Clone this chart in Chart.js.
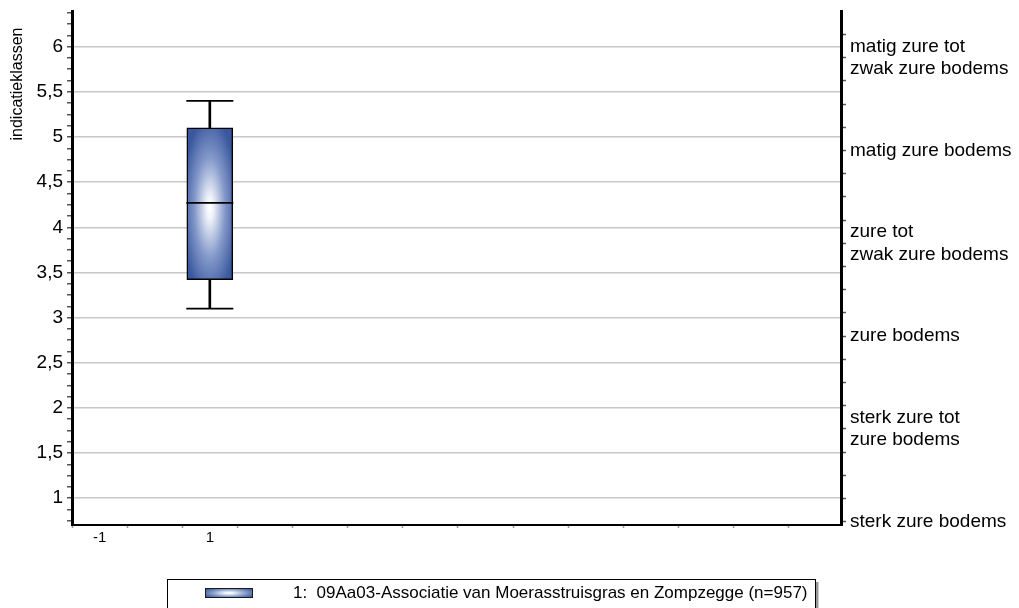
<!DOCTYPE html>
<html>
<head>
<meta charset="utf-8">
<script src="https://cdn.jsdelivr.net/npm/chart.js@4"></script>
<style>
  html, body { margin: 0; padding: 0; background: #ffffff; }
  #wrap { width: 1019px; height: 608px; position: relative; }
</style>
</head>
<body>
<div id="wrap"><canvas id="c" width="1019" height="608"></canvas></div>
<script>
// ---- data ----
const positions   = [1];
const whiskerLow  = [3.1];
const quartile1   = [3.42];
const medians     = [4.27];
const quartile3   = [5.1];
const whiskerHigh = [5.4];
const seriesLabel = '1:  09Aa03-Associatie van Moerasstruisgras en Zompzegge (n=957)';
const axisTitle   = 'indicatieklassen';

// bottom axis: labelled positions
const xTickValues = [-1, 1];
const xTickLabels = ['-1', '1'];

// right axis: one label per soil class 1..6
const classValues = [1, 2, 3, 4, 5, 6];
const classLabels = [
  ['sterk zure bodems'],
  ['sterk zure tot', 'zure bodems'],
  ['zure bodems'],
  ['zure tot', 'zwak zure bodems'],
  ['matig zure bodems'],
  ['matig zure tot', 'zwak zure bodems']
];

// ---- styling ----
const FONT = "'Liberation Sans', Arial, Helvetica, sans-serif";
const BOX_W = 46;
const BOX_EDGE = 'rgb(58, 88, 158)';
Chart.defaults.font.family = FONT;
Chart.defaults.color = '#000';

function steps(from, to, step) {
  const out = [];
  for (let v = from; v <= to + 1e-9; v += step) out.push(Math.round(v * 1000) / 1000);
  return out;
}
const isHalf = v => v !== undefined && Math.abs(v * 2 - Math.round(v * 2)) < 1e-6;
const commaNum = v => String(v).replace('.', ',');

// fixed axis box sizes, no extra room reserved for overhanging labels
function fixBox(size, key) {
  return s => {
    s[key] = size;
    s.paddingTop = 0; s.paddingBottom = 0; s.paddingLeft = 0; s.paddingRight = 0;
  };
}

// elliptical white-to-blue shading for the box
function boxFill(context) {
  const chart = context.chart;
  const xs = chart.scales.x, ys = chart.scales.y;
  const i = context.dataIndex;
  if (!xs || !ys || i === undefined || !chart.chartArea) return BOX_EDGE;
  const cx = xs.getPixelForValue(positions[i]);
  const top = ys.getPixelForValue(quartile3[i]);
  const bot = ys.getPixelForValue(quartile1[i]);
  const h = bot - top, cy = (top + bot) / 2;
  const off = document.createElement('canvas');
  off.width = chart.width; off.height = chart.height;
  const g = off.getContext('2d');
  g.fillStyle = BOX_EDGE;
  g.fillRect(0, 0, off.width, off.height);
  g.save();
  g.translate(cx, cy + 4);
  g.scale(1, h / BOX_W);
  const grad = g.createRadialGradient(0, 0, 0, 0, 0, BOX_W * 0.6);
  grad.addColorStop(0, '#ffffff');
  grad.addColorStop(0.12, '#f0f3f9');
  grad.addColorStop(0.55, 'rgb(132, 153, 202)');
  grad.addColorStop(1, BOX_EDGE);
  g.fillStyle = grad;
  g.fillRect(-BOX_W, -BOX_W, BOX_W * 2, BOX_W * 2);
  g.restore();
  return chart.ctx.createPattern(off, 'no-repeat');
}

// axis title and framed legend
const decorations = {
  id: 'decorations',
  afterDraw(chart) {
    const ctx = chart.ctx;
    const area = chart.chartArea;
    ctx.save();
    // rotated y-axis title
    ctx.translate(18, area.top + 73);
    ctx.rotate(-Math.PI / 2);
    ctx.font = '16px ' + FONT;
    ctx.fillStyle = '#000';
    ctx.textAlign = 'center';
    ctx.textBaseline = 'middle';
    ctx.fillText(axisTitle, 0, 0);
    ctx.restore();

    // legend frame with shadow
    ctx.save();
    ctx.fillStyle = '#9a9a9a';
    ctx.fillRect(816, 582, 2.5, 40);
    ctx.fillStyle = '#ffffff';
    ctx.fillRect(167.5, 579.5, 648, 40);
    ctx.strokeStyle = '#000';
    ctx.lineWidth = 1;
    ctx.strokeRect(167.5, 579.5, 648, 40);

    // legend swatch
    const sx = 205, sy = 588, sw = 48, sh = 10;
    ctx.save();
    ctx.beginPath();
    ctx.rect(sx, sy, sw, sh);
    ctx.clip();
    ctx.fillStyle = BOX_EDGE;
    ctx.fillRect(sx, sy, sw, sh);
    ctx.translate(sx + sw / 2, sy + sh / 2);
    ctx.scale(1, sh / sw);
    const grad = ctx.createRadialGradient(0, 0, 0, 0, 0, sw * 0.6);
    grad.addColorStop(0, '#ffffff');
    grad.addColorStop(0.15, '#eef2f9');
    grad.addColorStop(0.6, 'rgb(130, 152, 200)');
    grad.addColorStop(1, BOX_EDGE);
    ctx.fillStyle = grad;
    ctx.fillRect(-sw, -sw, sw * 2, sw * 2);
    ctx.restore();
    ctx.strokeStyle = '#1a1a1a';
    ctx.lineWidth = 1;
    ctx.strokeRect(sx + 0.5, sy + 0.5, sw - 1, sh - 1);

    // legend text
    ctx.font = '17px ' + FONT;
    ctx.fillStyle = '#000';
    ctx.textAlign = 'left';
    ctx.textBaseline = 'middle';
    ctx.fillText(chart.data.datasets[1].label, 293, 593);
    ctx.restore();
  }
};

new Chart(document.getElementById('c'), {
  type: 'bar',
  data: {
    datasets: [
      {
        label: 'whisker',
        type: 'bar',
        data: positions.map((p, i) => ({ x: p, y: [whiskerLow[i], whiskerHigh[i]] })),
        backgroundColor: '#000',
        borderWidth: 0,
        barThickness: 2,
        grouped: false,
        order: 2
      },
      {
        label: seriesLabel,
        type: 'bar',
        data: positions.map((p, i) => ({ x: p, y: [quartile1[i], quartile3[i]] })),
        backgroundColor: boxFill,
        borderColor: '#000',
        borderWidth: 1.5,
        borderSkipped: false,
        barThickness: BOX_W,
        grouped: false,
        order: 1
      },
      {
        label: 'marks',
        type: 'scatter',
        data: positions.flatMap((p, i) => [
          { x: p, y: whiskerLow[i] },
          { x: p, y: medians[i] },
          { x: p, y: whiskerHigh[i] }
        ]),
        pointStyle: 'line',
        pointRadius: 23.5,
        pointBorderWidth: 1.8,
        pointBorderColor: '#000',
        showLine: false,
        order: 0
      }
    ]
  },
  options: {
    responsive: false,
    animation: false,
    events: [],
    layout: { autoPadding: false, padding: { top: 11, left: 0, right: 0, bottom: 0 } },
    plugins: { legend: { display: false }, tooltip: { enabled: false } },
    scales: {
      x: {
        type: 'linear',
        min: -1.5,
        max: 12.45,
        offset: false,
        afterBuildTicks: s => { s.ticks = steps(-1, 12, 1).map(v => ({ value: v })); },
        afterFit: fixBox(83, 'height'),
        grid: { drawOnChartArea: false, tickLength: 3, tickColor: '#9a9a9a', tickWidth: 1.5 },
        border: { color: '#000', width: 2 },
        ticks: {
          autoSkip: false,
          maxRotation: 0,
          padding: 1,
          font: { size: 15 },
          color: '#000',
          callback: v => {
            const k = xTickValues.indexOf(v);
            return k >= 0 ? xTickLabels[k] : '';
          }
        }
      },
      y: {
        type: 'linear',
        position: 'left',
        min: 0.703,
        max: 6.395,
        afterBuildTicks: s => { s.ticks = steps(0.75, 6.375, 0.125).map(v => ({ value: v })); },
        afterFit: fixBox(72, 'width'),
        grid: {
          color: c => (c.tick && isHalf(c.tick.value) && c.tick.value >= 1) ? '#c8c8c8' : 'rgba(0,0,0,0)',
          lineWidth: 1.5,
          tickColor: '#555',
          tickLength: 5,
          tickWidth: 1.5
        },
        border: { color: '#000', width: 3 },
        ticks: {
          autoSkip: false,
          padding: 4,
          font: { size: 19 },
          color: '#000',
          callback: v => (isHalf(v) && v >= 1) ? commaNum(v) : ''
        }
      },
      y2: {
        type: 'linear',
        position: 'right',
        min: 0.964,
        max: 6.503,
        afterBuildTicks: s => { s.ticks = steps(1, 6.25, 0.25).map(v => ({ value: v })); },
        afterFit: fixBox(178, 'width'),
        grid: { drawOnChartArea: false, tickColor: '#555', tickLength: 5, tickWidth: 1.5 },
        border: { color: '#000', width: 3 },
        ticks: {
          autoSkip: false,
          padding: 4,
          font: { size: 19, lineHeight: 1.2 },
          color: '#000',
          callback: v => {
            const k = classValues.indexOf(v);
            return k >= 0 ? classLabels[k] : '';
          }
        }
      }
    }
  },
  plugins: [decorations]
});
</script>
</body>
</html>
